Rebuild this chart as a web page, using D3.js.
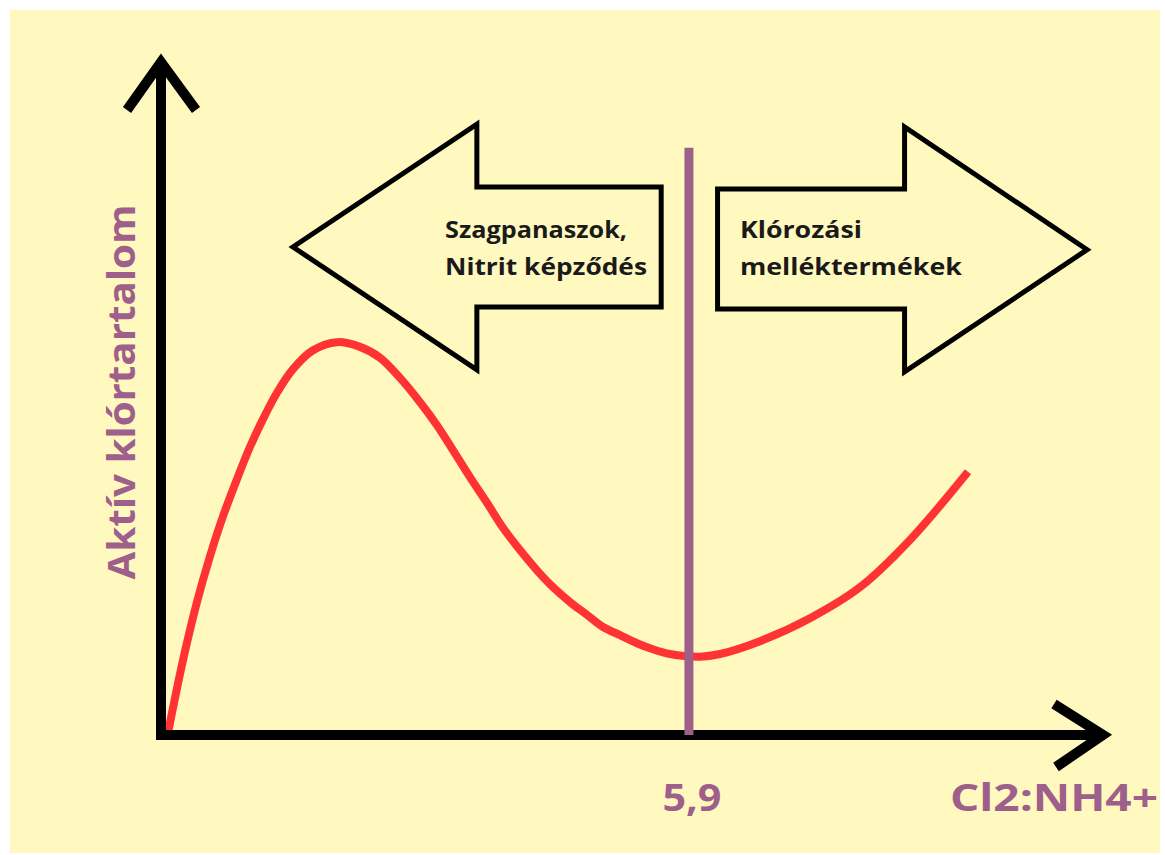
<!DOCTYPE html>
<html>
<head>
<meta charset="utf-8">
<script src="https://cdn.jsdelivr.net/npm/d3@7"></script>
<style>
  html, body { margin: 0; padding: 0; background: #fff; }
  svg { display: block; }
</style>
</head>
<body>
<svg id="chart" width="1165" height="855"></svg>
<script>
// görbe: Cl2:NH4+ arány -> aktív klórtartalom (tetszőleges egység)
const ratio = [0.078, 0.246, 0.402, 0.548, 0.693, 0.849, 0.995, 1.140, 1.296, 1.475, 1.699, 1.967,
    2.224, 2.447, 2.671, 2.895, 3.084, 3.263, 3.453, 3.643, 3.822, 4.012, 4.202, 4.381, 4.571,
    4.761, 4.940, 5.130, 5.320, 5.498, 5.688, 6.024, 6.247, 6.694, 7.253, 7.812, 8.370, 9.019];
const activeCl = [0.3, 11.1, 19.7, 26.5, 32.4, 37.9, 42.7, 46.8, 50.7, 54.2, 57.0, 58.2,
    57.5, 55.9, 52.9, 49.3, 45.9, 42.2, 38.2, 34.4, 30.7, 27.4, 24.4, 21.9, 19.7,
    17.8, 16.0, 14.8, 13.6, 12.7, 12.0, 11.6, 12.0, 13.9, 17.3, 21.9, 28.9, 39.0];

const breakpoint = 5.9;
const breakpointLabel = '5,9';
const xLabel = 'Cl2:NH4+';
const yLabel = 'Aktív klórtartalom';

const leftText = ['Szagpanaszok,', 'Nitrit képződés'];
const rightText = ['Klórozási', 'melléktermékek'];

const W = 1165, H = 855;
const svg = d3.select('#chart');

svg.append('rect')
    .attr('x', 10).attr('y', 10)
    .attr('width', W - 15).attr('height', H - 12)
    .attr('fill', '#FFF9C0');

const x = d3.scaleLinear().domain([0, 10.55]).range([161, 1105]);
const y = d3.scaleLinear().domain([0, 100]).range([735, 60]);

// nyilak (szöveges dobozok)
const leftArrow = [[5.59, 81.2], [3.53, 81.2], [3.53, 90.5], [1.475, 72.3], [3.53, 54.1], [3.53, 63.4], [5.59, 63.4]];
const rightArrow = [[6.22, 80.9], [8.31, 80.9], [8.31, 90.1], [10.35, 71.9], [8.31, 53.8], [8.31, 63.1], [6.22, 63.1]];

const poly = d3.line().x(d => x(d[0])).y(d => y(d[1]));

[leftArrow, rightArrow].forEach(a => {
    svg.append('path')
        .attr('d', poly(a) + 'Z')
        .attr('fill', 'none')
        .attr('stroke', '#000')
        .attr('stroke-width', 5)
        .attr('stroke-linejoin', 'miter');
});

function arrowText(lines, x0, widths) {
    lines.forEach((t, i) => {
        svg.append('text')
            .attr('x', x(x0))
            .attr('y', 238 + i * 37)
            .attr('font-family', 'Open Sans, sans-serif')
            .attr('font-weight', 700)
            .attr('font-size', 23)
            .attr('fill', '#1a1a1a')
            .attr('textLength', widths[i])
            .attr('lengthAdjust', 'spacingAndGlyphs')
            .text(t);
    });
}
arrowText(leftText, 3.174, [182, 202]);
arrowText(rightText, 6.47, [122, 222]);

// piros görbe
const curve = d3.line()
    .x((d, i) => x(ratio[i]))
    .y(d => y(d))
    .curve(d3.curveCatmullRom.alpha(0.5));

svg.append('path')
    .datum(activeCl)
    .attr('d', curve)
    .attr('fill', 'none')
    .attr('stroke', '#FF3333')
    .attr('stroke-width', 8);

// tengelyek
const axisG = svg.append('g')
    .attr('stroke', '#000')
    .attr('stroke-width', 10)
    .attr('fill', 'none');

axisG.append('path')
    .attr('d', `M${x(0)},${y(0) + 5}V${y(100)}`);
axisG.append('path')
    .attr('d', `M${x(0) - 5},${y(0)}H${x(10.55)}`);

// nyílhegyek
axisG.append('path')
    .attr('stroke-linejoin', 'miter')
    .attr('d', `M${x(0) - 34},${y(100) + 50}L${x(0)},${y(100) + 2}L${x(0) + 35},${y(100) + 50}`);
axisG.append('path')
    .attr('stroke-linejoin', 'miter')
    .attr('d', `M${x(10.55) - 51},${y(0) - 31}L${x(10.55) - 2},${y(0)}L${x(10.55) - 49},${y(0) + 32}`);

// 5,9 függőleges vonal
svg.append('line')
    .attr('x1', x(breakpoint)).attr('x2', x(breakpoint))
    .attr('y1', y(87)).attr('y2', y(0))
    .attr('stroke', '#9E5F8A')
    .attr('stroke-width', 9);

const labelStyle = sel => sel
    .attr('font-family', 'Open Sans, sans-serif')
    .attr('font-weight', 700)
    .attr('fill', '#9E5F8A')
    .attr('lengthAdjust', 'spacingAndGlyphs');

svg.append('text')
    .attr('x', x(breakpoint) + 3)
    .attr('y', 811)
    .attr('text-anchor', 'middle')
    .attr('font-size', 38)
    .attr('textLength', 59)
    .call(labelStyle)
    .text(breakpointLabel);

svg.append('text')
    .attr('x', 1054)
    .attr('y', 811)
    .attr('text-anchor', 'middle')
    .attr('font-size', 38)
    .attr('textLength', 208)
    .call(labelStyle)
    .text(xLabel);

svg.append('text')
    .attr('transform', `translate(135,392) rotate(-90)`)
    .attr('text-anchor', 'middle')
    .attr('font-size', 38)
    .attr('textLength', 375)
    .call(labelStyle)
    .text(yLabel);
</script>
</body>
</html>
